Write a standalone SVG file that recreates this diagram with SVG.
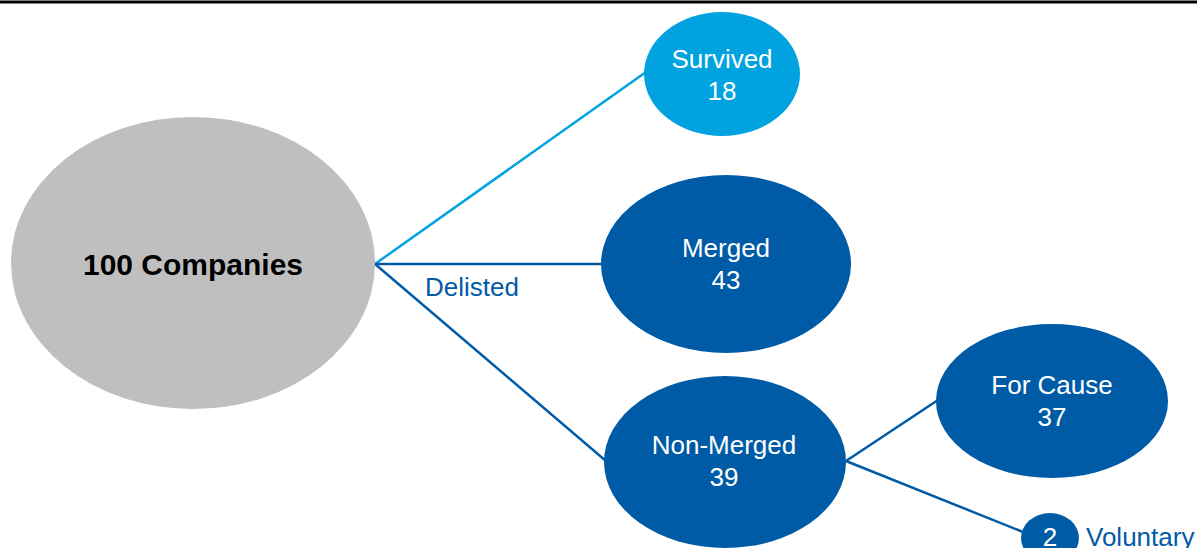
<svg xmlns="http://www.w3.org/2000/svg" width="1197" height="548" viewBox="0 0 1197 548">
<style>
.dark{fill:#005BA6}
.lt{fill:#00A3E0}
.wt{fill:#fff;font-family:"Liberation Sans",Arial,sans-serif;font-size:26px;text-anchor:middle}
.bl{fill:#005BA6;font-family:"Liberation Sans",Arial,sans-serif;font-size:26px}
.cl{fill:none;stroke-width:2.5}
</style>
<rect width="1197" height="548" fill="#fff"/>
<line x1="0" y1="2" x2="1197" y2="2" stroke="#000" stroke-width="3"/>
<g id="connectors">
<line class="cl" x1="375" y1="264" x2="646" y2="72" stroke="#00A3E0"/>
<line class="cl" x1="375" y1="264" x2="603" y2="264" stroke="#005BA6"/>
<line class="cl" x1="375" y1="264" x2="606" y2="461" stroke="#005BA6"/>
<line class="cl" x1="846" y1="461" x2="938" y2="400" stroke="#005BA6"/>
<line class="cl" x1="846" y1="461" x2="1023" y2="532" stroke="#005BA6"/>
<text class="bl" x="425" y="296">Delisted</text>
</g>
<g id="companies">
<ellipse cx="193" cy="263" rx="182" ry="146" fill="#BFBFBF"/>
<text x="193" y="275" font-family="Liberation Sans,Arial,sans-serif" font-size="30" font-weight="bold" text-anchor="middle" fill="#000">100 Companies</text>
</g>
<g id="survived">
<ellipse class="lt" cx="722" cy="74" rx="78" ry="62"/>
<text class="wt" x="722" y="68">Survived</text>
<text class="wt" x="722" y="100">18</text>
</g>
<g id="merged">
<ellipse class="dark" cx="726" cy="264" rx="125" ry="89"/>
<text class="wt" x="726" y="257">Merged</text>
<text class="wt" x="726" y="289">43</text>
</g>
<g id="nonmerged">
<ellipse class="dark" cx="725" cy="462" rx="121" ry="86"/>
<text class="wt" x="724" y="454">Non-Merged</text>
<text class="wt" x="724" y="486">39</text>
</g>
<g id="forcause">
<ellipse class="dark" cx="1052" cy="401" rx="116" ry="77"/>
<text class="wt" x="1052" y="394">For Cause</text>
<text class="wt" x="1052" y="426">37</text>
</g>
<g id="voluntary">
<ellipse class="dark" cx="1050" cy="538" rx="29" ry="25"/>
<text class="wt" x="1050" y="546">2</text>
<text class="bl" x="1086" y="546">Voluntary</text>
</g>
</svg>
